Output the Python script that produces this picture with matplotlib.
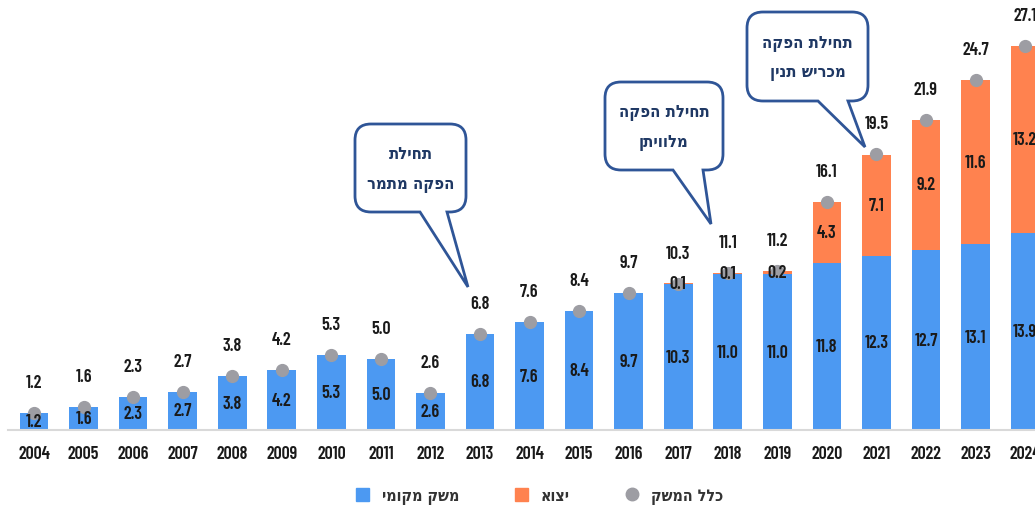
import matplotlib
matplotlib.use("Agg")
import matplotlib.pyplot as plt
from matplotlib.path import Path
from matplotlib.patches import PathPatch, Patch
from matplotlib.lines import Line2D
import numpy as np

years = ["2004", "2005", "2006", "2007", "2008", "2009", "2010", "2011", "2012", "2013",
         "2014", "2015", "2016", "2017", "2018", "2019", "2020", "2021", "2022", "2023", "2024"]
local = [1.2, 1.6, 2.3, 2.7, 3.8, 4.2, 5.3, 5.0, 2.6, 6.8, 7.6, 8.4, 9.7, 10.3, 11.0, 11.0,
         11.8, 12.3, 12.7, 13.1, 13.9]
export = [0, 0, 0, 0, 0, 0, 0, 0, 0, 0, 0, 0, 0, 0.1, 0.1, 0.2, 4.3, 7.1, 9.2, 11.6, 13.2]
total = [1.2, 1.6, 2.3, 2.7, 3.8, 4.2, 5.3, 5.0, 2.6, 6.8, 7.6, 8.4, 9.7, 10.3, 11.1, 11.2,
         16.1, 19.5, 21.9, 24.7, 27.1]
legend_labels = ["משק מקומי", "יצוא", "כלל המשק"]
callout_texts = [["תחילת", "הפקה מתמר"], ["תחילת הפקה", "מלוויתן"], ["תחילת הפקה", "מכריש תנין"]]

BLUE = "#4C99F2"
ORANGE = "#FF824F"
GRAY = "#9D9DA3"
NAVY = "#2F5597"
TXT = "#1a1a1a"

NUMFAM = ["Barlow Condensed", "DejaVu Sans"]
NUM = dict(family=NUMFAM, fontweight=600)
HEB = dict(family="DejaVu Sans", fontstretch="condensed", fontweight="bold")


def renderer_is_plain_ltr():
    """Check whether Hebrew is laid out without bidi (lamed drawn on the left)."""
    f = plt.figure(figsize=(3, 1), dpi=100)
    f.text(0.1, 0.25, "\u05dc   \u05d0", fontsize=36, family="DejaVu Sans")
    f.canvas.draw()
    a = np.asarray(f.canvas.buffer_rgba())[:, :, 0]
    plt.close(f)
    dark = a < 128
    rows = np.where(dark.any(axis=1))[0]
    cols_all = np.where(dark.any(axis=0))[0]
    if len(rows) == 0:
        return True
    top, bot = rows.min(), rows.max()
    asc = dark[top: top + max(1, (bot - top) // 5)]
    cols = np.where(asc.any(axis=0))[0]
    mid = (cols_all.min() + cols_all.max()) / 2
    return cols.mean() < mid


REVERSE = renderer_is_plain_ltr()


def heb(s):
    if not REVERSE:
        return s
    return "\n".join(line[::-1] for line in s.split("\n"))


W, H = 1035, 510
fig = plt.figure(figsize=(W / 100, H / 100), dpi=100)
ax = fig.add_axes([8 / W, 1 - 431 / H, 1 - 8 / W, 431 / H])
x = np.arange(len(years))
bw = 0.58
ax.bar(x, local, bw, color=BLUE, zorder=2)
ax.bar(x, export, bw, bottom=local, color=ORANGE, zorder=2)
ax.plot(x, total, "o", color=GRAY, markersize=8.5, zorder=3, linestyle="none")

ax.set_xlim(-0.525, 20.2)
ax.set_ylim(0, 30.42)
for s in ["top", "right", "left"]:
    ax.spines[s].set_visible(False)
ax.spines["bottom"].set_color("#d9d9d9")
ax.spines["bottom"].set_linewidth(1.5)
ax.set_yticks([])
ax.set_xticks(x)
ax.set_xticklabels(years, fontsize=13, color=TXT, **NUM)
ax.tick_params(axis="x", length=0, pad=11)

for i in range(len(years)):
    ax.text(x[i], local[i] / 2, f"{local[i]:.1f}", ha="center", va="center",
            fontsize=13, color=TXT, zorder=4, **NUM)
    if export[i] > 0:
        ax.text(x[i], local[i] + export[i] / 2, f"{export[i]:.1f}", ha="center", va="center",
                fontsize=13, color=TXT, zorder=4, **NUM)
    ax.annotate(f"{total[i]:.1f}", (x[i], total[i]), xytext=(0, 22), textcoords="offset points",
                ha="center", va="center", fontsize=13, color=TXT, **NUM)


# callouts (pixel coords, y down)
def fx(px):
    return px / W


def fy(py):
    return 1 - py / H


def callout(x0, y0, x1, y1, b0, b1, tx, ty, r, lines):
    pts = [
        (x0 + r, y0), (x1 - r, y0), (x1, y0), (x1, y0 + r), (x1, y1 - r), (x1, y1), (x1 - r, y1),
        (b1, y1), (tx, ty), (b0, y1), (x0 + r, y1), (x0, y1), (x0, y1 - r), (x0, y0 + r),
        (x0, y0), (x0 + r, y0), (x0 + r, y0)]
    codes = [Path.MOVETO, Path.LINETO, Path.CURVE3, Path.CURVE3, Path.LINETO, Path.CURVE3,
             Path.CURVE3, Path.LINETO, Path.LINETO, Path.LINETO, Path.LINETO, Path.CURVE3,
             Path.CURVE3, Path.LINETO, Path.CURVE3, Path.CURVE3, Path.CLOSEPOLY]
    verts = [(fx(a), fy(b)) for a, b in pts]
    p = PathPatch(Path(verts, codes), facecolor="white", edgecolor=NAVY, linewidth=2,
                  transform=fig.transFigure, zorder=10)
    fig.add_artist(p)
    cx = (x0 + x1) / 2
    cy = (y0 + y1) / 2
    fig.text(fx(cx), fy(cy), heb("\n".join(lines)), ha="center", va="center",
             fontsize=12, color="#1F3864", linespacing=1.8, zorder=11, **HEB)


callout(355, 125, 466, 213, 420, 447, 468, 288, 16, callout_texts[0])
callout(605, 83, 723, 171, 673, 703, 711, 225, 16, callout_texts[1])
callout(747, 13, 868, 102, 818, 848, 865, 148, 16, callout_texts[2])

handles = [Patch(color=BLUE), Patch(color=ORANGE),
           Line2D([], [], marker="o", color=GRAY, linestyle="none", markersize=9)]
leg = fig.legend(handles, [heb(t) for t in legend_labels], loc="center",
                 bbox_to_anchor=(fx(540), fy(497)), ncol=3, frameon=False,
                 prop=dict(size=11.5, family="DejaVu Sans", stretch="condensed", weight="bold"),
                 handlelength=0.8, handleheight=0.8, columnspacing=3.5, handletextpad=0.8)
for t in leg.get_texts():
    t.set_color("#333333")

fig.savefig("out.png", dpi=100)
